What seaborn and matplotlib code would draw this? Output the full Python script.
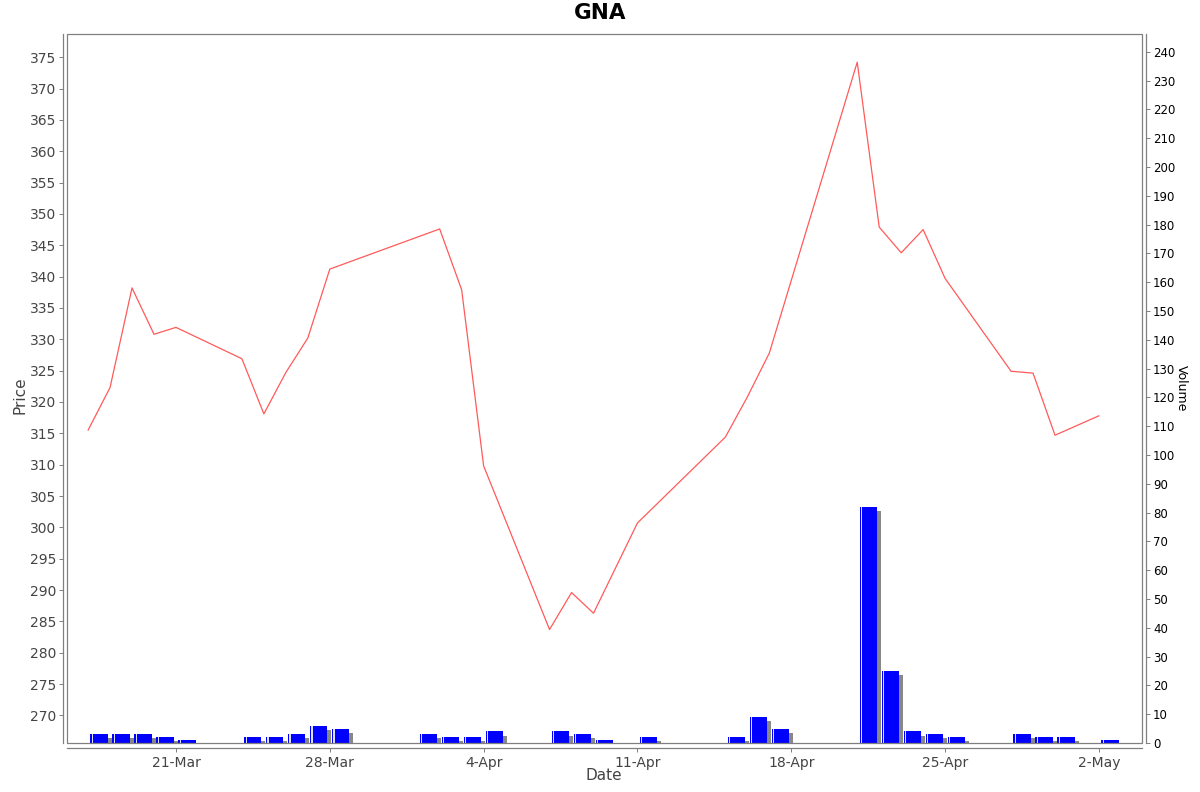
import matplotlib
matplotlib.use("Agg")
import matplotlib.pyplot as plt
import matplotlib.dates as mdates
from matplotlib.patches import Rectangle
from matplotlib.ticker import MultipleLocator
import seaborn as sns
import numpy as np
import pandas as pd

ticker_name = "GNA"

# trading days shown (volume is known for every one of them)
trade_days = ["2014-03-17", "2014-03-18", "2014-03-19", "2014-03-20", "2014-03-21",
              "2014-03-24", "2014-03-25", "2014-03-26", "2014-03-27", "2014-03-28",
              "2014-04-01", "2014-04-02", "2014-04-03", "2014-04-04",
              "2014-04-07", "2014-04-08", "2014-04-09", "2014-04-11",
              "2014-04-15", "2014-04-16", "2014-04-17",
              "2014-04-21", "2014-04-22", "2014-04-23", "2014-04-24", "2014-04-25",
              "2014-04-28", "2014-04-29", "2014-04-30", "2014-05-02"]
close_price = [315.5, 322.3, 338.2, 330.8, 331.9,
               326.9, 318.1, 324.7, 330.2, 341.2,
               np.nan, 347.6, 337.9, 309.8,
               283.7, 289.6, 286.3, 300.7,
               314.4, 320.8, 327.8,
               374.2, 347.9, 343.8, 347.5, 339.7,
               324.9, 324.6, 314.7, 317.8]
volume = [3, 3, 3, 2, 1,
          2, 2, 3, 6, 5,
          3, 2, 2, 4,
          4, 3, 1, 2,
          2, 9, 5,
          82, 25, 4, 3, 2,
          3, 2, 2, 1]
tick_days = ["2014-03-21", "2014-03-28", "2014-04-04", "2014-04-11",
             "2014-04-18", "2014-04-25", "2014-05-02"]

df = pd.DataFrame({"date": pd.to_datetime(trade_days), "close": close_price, "volume": volume})

sns.set_style("white")
plt.rcParams["font.family"] = ["DejaVu Sans"]

frame_col = "#808080"
label_col = "#444444"

fig = plt.figure(figsize=(12, 7.92), dpi=100)
ax = fig.add_axes([67 / 1200, 1 - 743 / 792, (1142 - 67) / 1200, (743 - 34) / 792])
ax2 = ax.twinx()

# volume bars with a drop shadow
xnum = mdates.date2num(df["date"]) + 0.5
bar_w = 0.78
sh_dx, sh_dy = 0.18, 1.4
ax2.bar(xnum + sh_dx, np.maximum(df["volume"] - sh_dy, 0), width=bar_w,
        color="#888888", linewidth=0, zorder=1)
ax2.bar(xnum, df["volume"], width=bar_w, color="#0000ff", linewidth=0, zorder=2)
ax2.bar(xnum - bar_w / 2 + 0.08, df["volume"], width=0.05, color="#dde0ff",
        linewidth=0, zorder=3)

# price line
sns.lineplot(data=df.dropna(), x="date", y="close", color="#ff5a5a",
             linewidth=0.9, ax=ax, zorder=5)

ax.set_zorder(ax2.get_zorder() + 1)
ax.patch.set_visible(False)

ax.set_xlim(mdates.date2num(pd.Timestamp("2014-03-16 01:00")),
            mdates.date2num(pd.Timestamp("2014-05-03 23:00")))
ax.set_ylim(265.6, 378.7)
ax2.set_ylim(0, 246.2)

ax.yaxis.set_major_locator(MultipleLocator(5))
ax2.yaxis.set_major_locator(MultipleLocator(10))
ax.set_xticks(pd.to_datetime(tick_days))
ax.xaxis.set_major_formatter(mdates.DateFormatter("%-d-%b"))

for a in (ax, ax2):
    for s in a.spines.values():
        s.set_visible(False)

ax.spines["left"].set_visible(True)
ax.spines["left"].set_position(("outward", 3))
ax.spines["bottom"].set_visible(True)
ax.spines["bottom"].set_position(("outward", 3.5))
ax2.spines["right"].set_visible(True)
ax2.spines["right"].set_position(("outward", 3))
for s in (ax.spines["left"], ax.spines["bottom"], ax2.spines["right"]):
    s.set_color(frame_col)
    s.set_linewidth(0.9)

ax.add_patch(Rectangle((0, 0), 1, 1, transform=ax.transAxes, fill=False,
                       edgecolor=frame_col, linewidth=0.9, clip_on=False, zorder=10))

ax.tick_params(axis="y", length=3, width=0.7, color=frame_col, labelsize=10,
               labelcolor=label_col, pad=2, left=True)
ax.tick_params(axis="x", length=3, width=0.7, color=frame_col, labelsize=10,
               labelcolor=label_col, pad=3, bottom=True)
ax2.tick_params(axis="y", length=3, width=0.7, color=frame_col, labelsize=8.5,
                labelcolor="black", pad=2, right=True)

ax.set_xlabel("")
ax.set_ylabel("")
ax2.set_ylabel("")

fig.text(0.5, 1 - 13 / 792, ticker_name, ha="center", va="center",
         fontsize=15.5, fontweight="bold", color="black")
fig.text(20 / 1200, 1 - 395 / 792, "Price", ha="center", va="center",
         rotation=90, fontsize=11, color=label_col)
fig.text(604 / 1200, 1 - 776 / 792, "Date", ha="center", va="center",
         fontsize=11, color=label_col)
fig.text(1181 / 1200, 1 - 388 / 792, "Volume", ha="center", va="center",
         rotation=-90, fontsize=9, color="black")

fig.savefig("out.png", dpi=100)
